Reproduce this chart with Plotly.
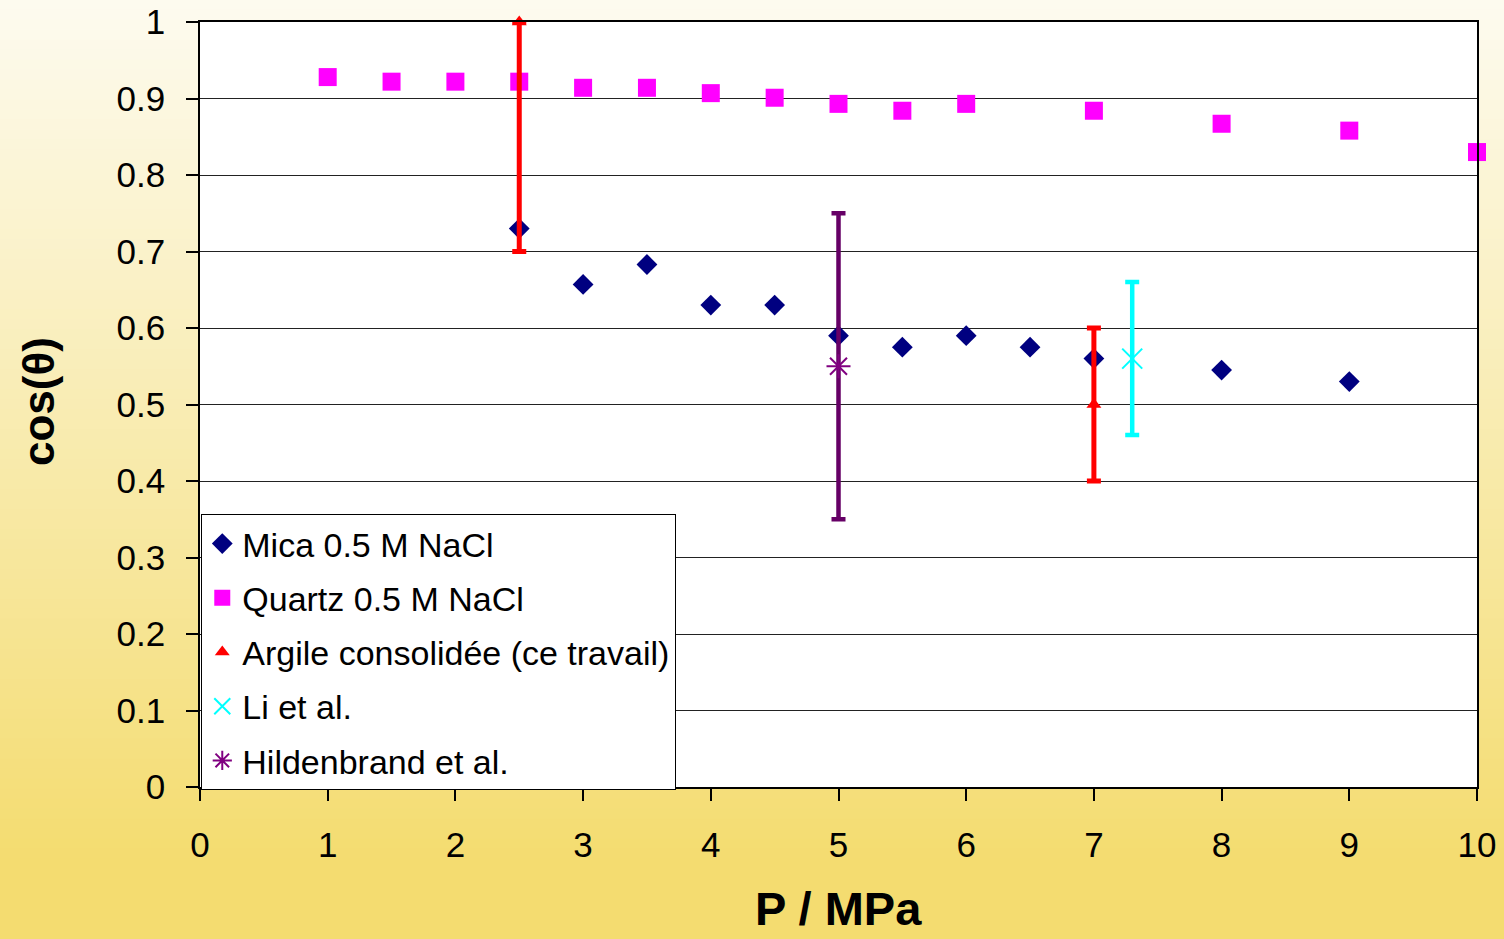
import plotly.graph_objects as go

# ---------------- data ----------------
mica_p = [2.5, 3, 3.5, 4, 4.5, 5, 5.5, 6, 6.5, 7, 8, 9]
mica_cos = [0.73, 0.657, 0.683, 0.63, 0.63, 0.59, 0.575, 0.59, 0.575, 0.56, 0.545, 0.53]

quartz_p = [1, 1.5, 2, 2.5, 3, 3.5, 4, 4.5, 5, 5.5, 6, 7, 8, 9, 10]
quartz_cos = [0.928, 0.922, 0.922, 0.922, 0.914, 0.914, 0.907, 0.901, 0.893, 0.884, 0.893, 0.884, 0.867, 0.858, 0.830]

argile_p = [2.5, 7]
argile_cos = [1.0, 0.5]
argile_err_plus = [0.0, 0.1]
argile_err_minus = [0.3, 0.1]

li_p = [7.3]
li_cos = [0.56]
li_err = [0.1]

hild_p = [5]
hild_cos = [0.55]
hild_err = [0.2]

x_ticks = [0, 1, 2, 3, 4, 5, 6, 7, 8, 9, 10]
y_ticks = [0, 0.1, 0.2, 0.3, 0.4, 0.5, 0.6, 0.7, 0.8, 0.9, 1]

FONT = "Liberation Sans, Arial, sans-serif"

fig = go.Figure()

fig.add_trace(go.Scatter(
    x=mica_p, y=mica_cos, mode="markers", name="Mica 0.5 M NaCl",
    legendgroup="g1",
    marker=dict(symbol="diamond", size=16, color="#000080",
                line=dict(width=0))))

fig.add_trace(go.Scatter(
    x=quartz_p, y=quartz_cos, mode="markers", name="Quartz 0.5 M NaCl",
    legendgroup="g2", cliponaxis=False,
    marker=dict(symbol="square", size=18, color="#FF00FF",
                line=dict(width=0))))

fig.add_trace(go.Scatter(
    x=argile_p, y=argile_cos, mode="markers", name="Argile consolidée (ce travail)",
    legendgroup="g3", cliponaxis=False,
    marker=dict(symbol="triangle-up", size=13, color="#FF0000",
                line=dict(width=0)),
    error_y=dict(type="data", array=argile_err_plus, arrayminus=argile_err_minus,
                 symmetric=False, color="#FF0000", thickness=5, width=7)))

fig.add_trace(go.Scatter(
    x=li_p, y=li_cos, mode="markers", name="Li et al.",
    legendgroup="g4",
    marker=dict(symbol="x-thin-open", size=20, color="#00FFFF",
                line=dict(width=2, color="#00FFFF")),
    error_y=dict(type="data", array=li_err, color="#00FFFF", thickness=4.5, width=7)))

fig.add_trace(go.Scatter(
    x=hild_p, y=hild_cos, mode="markers", name="Hildenbrand et al.",
    legendgroup="g5",
    marker=dict(symbol="asterisk-open", size=20, color="#800080",
                line=dict(width=2, color="#800080")),
    error_y=dict(type="data", array=hild_err, color="#660066", thickness=4.5, width=7)))

# ---------------- background gradient ----------------
W, H = 1504, 939
ml, mr, mt, mb = 200, 27, 22, 152
ph = H - mt - mb
pw = W - ml - mr


def py2paper(p):
    return (H - mb - p) / ph


top = (253, 251, 240)
bot = (244, 220, 112)
shapes = []
N = 94
for i in range(N):
    p0 = i * H / N
    p1 = (i + 1) * H / N
    t = min(1.0, ((p0 + p1) / 2) / 860.0)
    c = tuple(round(top[k] + (bot[k] - top[k]) * t) for k in range(3))
    shapes.append(dict(type="rect", xref="paper", yref="paper",
                       x0=-0.2, x1=1.1, y0=py2paper(p1 + 0.5), y1=py2paper(p0 - 0.5),
                       fillcolor="rgb(%d,%d,%d)" % c, line=dict(width=0),
                       layer="below"))
shapes.append(dict(type="rect", xref="paper", yref="paper", x0=0, x1=1, y0=0, y1=1,
                   fillcolor="white", line=dict(width=0), layer="below"))

fig.update_layout(
    width=W, height=H,
    margin=dict(l=ml, r=mr, t=mt, b=mb, pad=0, autoexpand=False),
    paper_bgcolor="#F8EBB0",
    plot_bgcolor="white",
    shapes=shapes,
    font=dict(family=FONT, color="black"),
    showlegend=True,
    legend=dict(x=0.001, y=py2paper(514), xanchor="left", yanchor="top",
                bgcolor="white", bordercolor="black", borderwidth=1,
                font=dict(family=FONT, size=34, color="black"),
                tracegroupgap=7, itemwidth=30,
                traceorder="grouped"),
    xaxis=dict(range=[0, 10], tickvals=x_ticks, ticktext=[str(v) for v in x_ticks],
               showgrid=False, zeroline=False, automargin=False,
               showline=True, linecolor="black", linewidth=1.5, mirror=True,
               ticks="outside", ticklen=12, tickwidth=1.5, tickcolor="black",
               ticklabelstandoff=14,
               tickfont=dict(family=FONT, size=35, color="black")),
    yaxis=dict(range=[0, 1], tickvals=y_ticks, ticktext=[("%g" % v) for v in y_ticks],
               showgrid=True, gridcolor="#222222", gridwidth=1, zeroline=False,
               automargin=False,
               showline=True, linecolor="black", linewidth=1.5, mirror=True,
               ticks="outside", ticklen=12, tickwidth=1.5, tickcolor="black",
               ticklabelstandoff=14,
               tickfont=dict(family=FONT, size=35, color="black")),
    annotations=[
        dict(text="<b>cos(θ)</b>", xref="paper", yref="paper",
             x=(38 - ml) / pw, y=py2paper(402), xanchor="center", yanchor="middle",
             showarrow=False, textangle=-90,
             font=dict(family=FONT, size=44, color="black")),
        dict(text="<b>P / MPa</b>", xref="paper", yref="paper",
             x=0.5, y=py2paper(937), xanchor="center", yanchor="bottom",
             showarrow=False,
             font=dict(family=FONT, size=47, color="black")),
    ],
)

fig.write_html("out.html", config={"displayModeBar": False},
               post_script="document.body.style.margin='0';document.body.style.overflow='hidden';")
